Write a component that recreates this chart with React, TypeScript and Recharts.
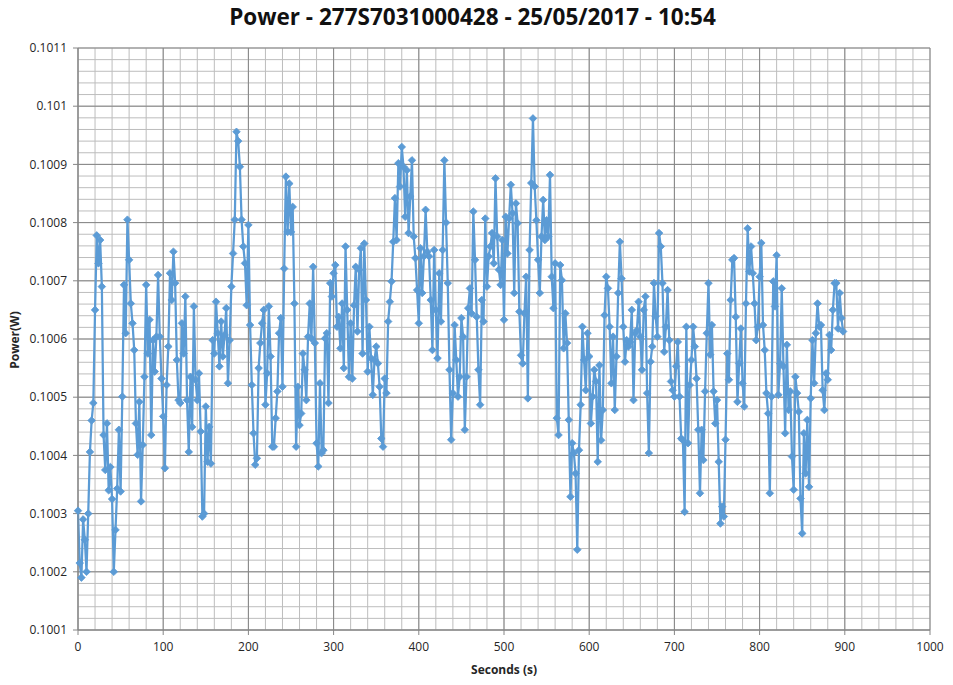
import React from 'react';
import { LineChart, Line, XAxis, YAxis, CartesianGrid } from 'recharts';

const TITLE = 'Power - 277S7031000428 - 25/05/2017 - 10:54';
const X_TITLE = 'Seconds (s)';
const Y_TITLE = 'Power(W)';
const SAMPLE_INTERVAL_S = 2;

// Power (W), one sample every 2 s
const power0to98 = [
  0.100305, 0.100215, 0.10019, 0.10029, 0.100255, 0.1002, 0.1003, 0.100406, 0.10046, 0.10049,
  0.10065, 0.100778, 0.10073, 0.10077, 0.10069, 0.100435, 0.100375, 0.100455, 0.10034, 0.10038,
  0.100325, 0.1002, 0.100272, 0.100343, 0.100444, 0.100338, 0.100501, 0.100693, 0.10061, 0.100805,
  0.100736, 0.100661, 0.100627, 0.100581, 0.100455, 0.100401, 0.100492, 0.100321, 0.100418, 0.100535,
  0.100693, 0.100575, 0.100633, 0.100435, 0.100598, 0.100544, 0.100604, 0.10071, 0.100604, 0.100532,
];
const power100to198 = [
  0.100467, 0.100378, 0.100521, 0.100587, 0.100713, 0.100667, 0.10075, 0.100696, 0.100564, 0.100495,
  0.10049, 0.100627, 0.100575, 0.100673, 0.100495, 0.100406, 0.100535, 0.100449, 0.100656, 0.10053,
  0.100495, 0.100541, 0.100441, 0.100295, 0.1003, 0.100484, 0.100389, 0.100449, 0.100386, 0.100598,
  0.100575, 0.100664, 0.10061, 0.100553, 0.10063, 0.10057, 0.100607, 0.100653, 0.100524, 0.100598,
  0.10069, 0.100747, 0.100805, 0.100956, 0.10094, 0.100896, 0.100805, 0.100759, 0.10073, 0.100658,
];
const power200to298 = [
  0.100796, 0.100624, 0.100521, 0.100438, 0.100384, 0.100395, 0.10055, 0.100593, 0.100627, 0.10065,
  0.100487, 0.100541, 0.100656, 0.10057, 0.100415, 0.100415, 0.100464, 0.10051, 0.10061, 0.100636,
  0.100518, 0.100721, 0.100879, 0.100784, 0.100867, 0.100784, 0.100827, 0.100661, 0.100415, 0.100518,
  0.100452, 0.100472, 0.100575, 0.100547, 0.100495, 0.100604, 0.100661, 0.100601, 0.100724, 0.100593,
  0.100421, 0.100381, 0.100524, 0.100404, 0.100409, 0.100601, 0.10061, 0.10049, 0.100696, 0.100673,
];
const power300to398 = [
  0.100713, 0.100727, 0.100621, 0.100638, 0.100584, 0.100661, 0.10055, 0.100759, 0.10065, 0.100535,
  0.100627, 0.100532, 0.100658, 0.100724, 0.100613, 0.100719, 0.100756, 0.100575, 0.100764, 0.100667,
  0.100544, 0.100621, 0.100567, 0.100504, 0.100564, 0.100587, 0.100558, 0.100518, 0.100429, 0.100415,
  0.100532, 0.100507, 0.10063, 0.100664, 0.100699, 0.100767, 0.100842, 0.10077, 0.100902, 0.100862,
  0.10093, 0.100896, 0.10081, 0.10089, 0.100782, 0.100845, 0.100907, 0.100776, 0.100739, 0.100684,
];
const power400to498 = [
  0.100627, 0.100756, 0.100679, 0.100742, 0.100822, 0.10075, 0.100742, 0.100667, 0.100581, 0.100753,
  0.10065, 0.100567, 0.100713, 0.10063, 0.100753, 0.100907, 0.1008, 0.100696, 0.100547, 0.100427,
  0.100507, 0.100624, 0.100564, 0.100501, 0.100535, 0.100636, 0.100604, 0.100444, 0.100535, 0.100653,
  0.100687, 0.100644, 0.100819, 0.100736, 0.100638, 0.100547, 0.100487, 0.100667, 0.10063, 0.100807,
  0.10069, 0.100742, 0.100759, 0.100782, 0.10073, 0.100876, 0.100776, 0.100719, 0.100693, 0.10077,
];
const power500to598 = [
  0.100633, 0.10081, 0.100747, 0.100807, 0.100865, 0.100816, 0.100679, 0.100833, 0.100799, 0.100647,
  0.100572, 0.100558, 0.100644, 0.100707, 0.100498, 0.100753, 0.100868, 0.100979, 0.100862, 0.100804,
  0.100736, 0.100679, 0.100776, 0.100839, 0.10077, 0.100804, 0.100776, 0.100882, 0.100707, 0.100653,
  0.10073, 0.100464, 0.100435, 0.100727, 0.100701, 0.100584, 0.100644, 0.100593, 0.100461, 0.100329,
  0.100421, 0.100404, 0.100369, 0.100238, 0.100409, 0.100487, 0.100621, 0.100564, 0.100512, 0.10061,
];
const power600to698 = [
  0.10057, 0.100455, 0.100501, 0.100547, 0.100527, 0.100389, 0.100555, 0.100426, 0.100478, 0.100641,
  0.100707, 0.100687, 0.100621, 0.100524, 0.100604, 0.100478, 0.10057, 0.100679, 0.100767, 0.100704,
  0.100621, 0.100561, 0.100598, 0.100587, 0.100595, 0.10065, 0.100495, 0.10061, 0.100615, 0.100664,
  0.100604, 0.100547, 0.10065, 0.100673, 0.100507, 0.100404, 0.100561, 0.100587, 0.100696, 0.100639,
  0.100604, 0.100782, 0.100759, 0.100696, 0.100578, 0.100621, 0.100684, 0.100598, 0.100527, 0.100512,
];
const power700to798 = [
  0.100501, 0.100553, 0.100595, 0.100501, 0.100429, 0.100426, 0.100303, 0.100621, 0.100421, 0.100521,
  0.100564, 0.100621, 0.100587, 0.100532, 0.100444, 0.100335, 0.100444, 0.100392, 0.10051, 0.10061,
  0.100696, 0.100573, 0.100624, 0.10051, 0.100455, 0.100495, 0.100389, 0.100283, 0.100312, 0.100295,
  0.100427, 0.100575, 0.10053, 0.100667, 0.100736, 0.100739, 0.100638, 0.100492, 0.100558, 0.100618,
  0.100524, 0.100484, 0.100661, 0.10079, 0.100716, 0.100759, 0.100713, 0.100661, 0.100598, 0.100621,
];
const power800to898 = [
  0.100707, 0.100765, 0.100624, 0.100581, 0.100507, 0.100472, 0.100335, 0.100501, 0.100699, 0.100656,
  0.100744, 0.100504, 0.100558, 0.100687, 0.100553, 0.100438, 0.10059, 0.100478, 0.10051, 0.100398,
  0.100341, 0.100535, 0.100507, 0.100475, 0.100326, 0.100266, 0.100438, 0.100369, 0.100461, 0.100346,
  0.100498, 0.100598, 0.100524, 0.10061, 0.100661, 0.100621, 0.100624, 0.100512, 0.100478, 0.100541,
  0.10053, 0.100607, 0.100581, 0.10065, 0.100696, 0.100696, 0.100618, 0.100679, 0.100636, 0.100613,
];

const xTicks = [0, 100, 200, 300, 400, 500, 600, 700, 800, 900, 1000];
const yTicks = [0.1001, 0.1002, 0.1003, 0.1004, 0.1005, 0.1006, 0.1007, 0.1008, 0.1009, 0.101, 0.1011];

const powerW = [
  ...power0to98, ...power100to198, ...power200to298, ...power300to398, ...power400to498,
  ...power500to598, ...power600to698, ...power700to798, ...power800to898,
];
const data = powerW.map((p, i) => ({ seconds: i * SAMPLE_INTERVAL_S, power: p }));

// minor gridline positions (5 subdivisions per major step)
const xMinor: number[] = [];
for (let i = 0; i <= 50; i++) xMinor.push(i * 20);
const yMinor: number[] = [];
for (let i = 0; i <= 50; i++) yMinor.push(0.1001 + i * 0.00002);

const BLUE = '#5B9BD5';
const FONT = '"Open Sans", "Liberation Sans", sans-serif';

const Diamond = (props: any) => {
  const { cx, cy, index } = props;
  if (cx == null || cy == null) return <g key={`d${index}`} />;
  const r = 3.8;
  return (
    <path
      key={`d${index}`}
      d={`M${cx},${cy - r}L${cx + r},${cy}L${cx},${cy + r}L${cx - r},${cy}Z`}
      fill={BLUE}
      stroke={BLUE}
      strokeWidth={0.8}
    />
  );
};

const fmtY = (v: number) => String(parseFloat(v.toFixed(4)));

export default function App() {
  return (
    <div style={{ position: 'absolute', left: 0, top: 0, width: 953, height: 685, background: '#fff', fontFamily: FONT }}>
      <div style={{ position: 'absolute', left: 0, top: 1, width: 945, textAlign: 'center', fontSize: 22.5, fontWeight: 700, color: '#111' }}>
        {TITLE}
      </div>
      <LineChart width={953} height={685} data={data} margin={{ top: 48, right: 23, bottom: 25, left: 0 }}>
        <CartesianGrid stroke="#bdbdbd" strokeWidth={1} horizontalValues={yMinor} verticalValues={xMinor} />
        <CartesianGrid stroke="#868686" strokeWidth={1} />
        <XAxis
          type="number"
          dataKey="seconds"
          domain={[0, 1000]}
          ticks={xTicks}
          interval={0}
          height={30}
          tickSize={5}
          tickMargin={7}
          axisLine={{ stroke: '#868686' }}
          tickLine={{ stroke: '#868686' }}
          tick={{ fontSize: 12, fill: '#262626', fontFamily: FONT }}
        />
        <YAxis
          type="number"
          domain={[0.1001, 0.1011]}
          ticks={yTicks}
          interval={0}
          width={78}
          tickSize={5}
          tickMargin={6}
          allowDataOverflow
          tickFormatter={fmtY}
          axisLine={{ stroke: '#868686' }}
          tickLine={{ stroke: '#868686' }}
          tick={{ fontSize: 12, fill: '#262626', fontFamily: FONT }}
        />
        <Line
          type="linear"
          dataKey="power"
          stroke={BLUE}
          strokeWidth={2.25}
          dot={Diamond}
          activeDot={false}
          isAnimationActive={false}
        />
      </LineChart>
      <div style={{ position: 'absolute', left: 504, top: 669, transform: 'translate(-50%, -50%)', fontSize: 12, fontWeight: 700, color: '#262626', whiteSpace: 'nowrap' }}>
        {X_TITLE}
      </div>
      <div style={{ position: 'absolute', left: 14, top: 340, transform: 'translate(-50%, -50%) rotate(-90deg)', fontSize: 12, fontWeight: 700, color: '#262626', whiteSpace: 'nowrap' }}>
        {Y_TITLE}
      </div>
    </div>
  );
}
